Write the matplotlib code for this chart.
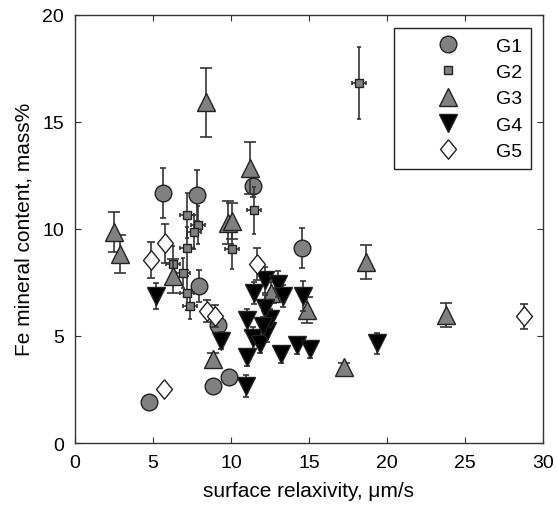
import numpy as np
import matplotlib
matplotlib.use("Agg")
import matplotlib.pyplot as plt

plt.rcParams["font.family"] = ["Liberation Sans", "DejaVu Sans"]
plt.rcParams["font.size"] = 14

# surface relaxivity (um/s), Fe content (mass%), error in Fe content
g1_x = [4.76, 8.87, 9.89, 9.19, 7.95, 5.62, 7.80, 11.43, 14.57]
g1_y = [1.90, 2.64, 3.06, 5.52, 7.33, 11.69, 11.56, 12.00, 9.12]
g1_e = [0.2, 0.2, 0.2, 0.3, 0.75, 1.17, 1.2, 0.5, 0.93]

g2_x = [7.16, 7.90, 7.64, 7.18, 6.30, 6.90, 7.18, 7.35, 10.04, 11.49, 18.20]
g2_y = [10.63, 10.17, 9.85, 9.09, 8.38, 7.94, 7.00, 6.40, 9.08, 10.86, 16.82]
g2_e = [1.05, 0.9, 0.8, 1.0, 0.8, 0.7, 0.8, 0.6, 0.94, 1.08, 1.67]
g2_xe = [0.45] * 11

g3_x = [2.52, 2.88, 8.38, 11.22, 9.83, 10.04, 6.26, 8.83, 12.54, 14.85, 17.26, 18.63, 23.76]
g3_y = [9.85, 8.81, 15.90, 12.85, 10.29, 10.36, 7.80, 3.92, 7.02, 6.22, 3.53, 8.45, 5.98]
g3_e = [0.93, 0.88, 1.6, 1.2, 1.0, 0.85, 0.8, 0.3, 0.5, 0.6, 0.2, 0.8, 0.58]

g4_x = [5.19, 9.36, 10.95, 11.00, 11.00, 11.40, 11.86, 12.28, 12.50, 12.20,
        11.47, 12.20, 13.00, 13.35, 14.64, 13.20, 14.21, 15.06, 19.34, 12.07]
g4_y = [6.87, 4.77, 2.67, 4.00, 5.75, 4.90, 4.62, 5.24, 5.78, 6.30,
        7.00, 7.62, 7.44, 6.87, 6.87, 4.15, 4.56, 4.37, 4.66, 5.47]
g4_e = [0.6, 0.4, 0.5, 0.4, 0.5, 0.5, 0.4, 0.5, 0.5, 0.6,
        0.5, 0.6, 0.6, 0.5, 0.7, 0.4, 0.4, 0.4, 0.5, 0.4]

g5_x = [5.71, 4.87, 5.77, 8.48, 8.97, 11.69, 28.78]
g5_y = [2.52, 8.55, 9.32, 6.17, 5.94, 8.35, 5.91]
g5_e = [0.2, 0.85, 0.9, 0.5, 0.5, 0.74, 0.58]

labels = ["G1", "G2", "G3", "G4", "G5"]

bar_col = "#333333"
gray = "#808080"
diamond = [(0, 1), (0.82, 0), (0, -1), (-0.82, 0), (0, 1)]

groups = [
    (g1_x, g1_y, g1_e, None, dict(marker="o", ms=12, mfc=gray), 2),
    (g2_x, g2_y, g2_e, g2_xe, dict(marker="s", ms=6, mfc=gray), 1.5),
    (g3_x, g3_y, g3_e, None, dict(marker="^", ms=13, mfc=gray), 4.5),
    (g4_x, g4_y, g4_e, None, dict(marker="v", ms=13, mfc="black"), 2),
    (g5_x, g5_y, g5_e, None, dict(marker=diamond, ms=14, mfc="white"), 3),
]

fig = plt.figure(figsize=(5.57, 5.06), dpi=100)
ax = fig.add_axes([0.1346, 0.1225, 0.8403, 0.8465])

z = 2
for (x, y, ye, xe, style, cap), lab in zip(groups, labels):
    ax.errorbar(x, y, yerr=ye, xerr=xe, fmt="none", ecolor=bar_col,
                elinewidth=1.2, capsize=cap, capthick=1.2, zorder=z)
    ax.plot(x, y, linestyle="none", mec="#222222", mew=1.0, label=lab,
            zorder=z + 1, **style)
    z += 2

ax.set_xlim(0, 30)
ax.set_ylim(0, 20)
ax.set_xticks(np.arange(0, 31, 5))
ax.set_yticks(np.arange(0, 21, 5))
ax.tick_params(direction="in", top=True, right=True, length=4, pad=8,
               width=0.8, colors="#333333", labelcolor="black", labelsize=14)
for s in ax.spines.values():
    s.set_color("#333333")
    s.set_linewidth(1.0)

ax.set_xlabel("surface relaxivity, μm/s", fontsize=15, labelpad=7)
ax.set_ylabel("Fe mineral content, mass%", fontsize=15, labelpad=6)

leg = ax.legend(loc="upper right", bbox_to_anchor=(0.975, 0.968),
                borderaxespad=0, fontsize=14, handlelength=4.6,
                handletextpad=0.2, labelspacing=0.45, borderpad=0.45,
                fancybox=False, framealpha=1)
leg.get_frame().set_edgecolor("#222222")
leg.get_frame().set_linewidth(1.0)

fig.savefig("out.png", dpi=100)
